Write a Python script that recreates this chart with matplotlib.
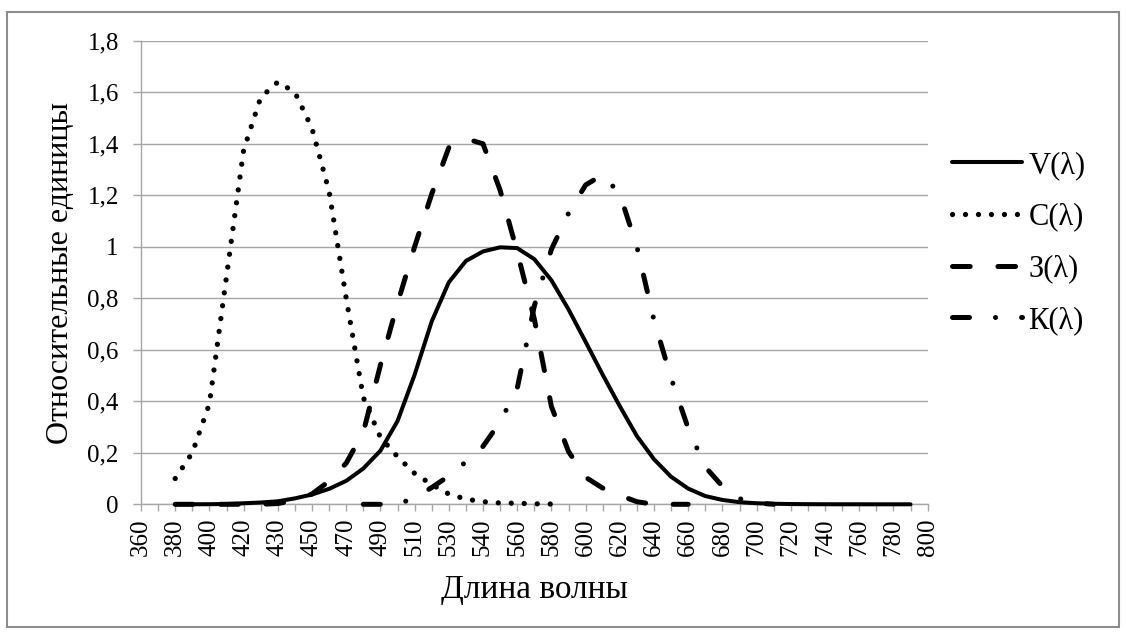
import matplotlib
matplotlib.use('Agg')
import matplotlib.pyplot as plt
from matplotlib.patches import Rectangle

plt.rcParams['font.family'] = ['Liberation Serif', 'DejaVu Serif']

# ---------------- data ----------------
categories = [360, 370, 380, 390, 400, 410, 420, 425, 430, 440, 450, 460, 470,
              480, 490, 500, 510, 520, 530, 535, 540, 550, 560, 570, 580, 590,
              600, 610, 620, 630, 640, 650, 660, 670, 680, 690, 700, 710, 720,
              730, 740, 750, 760, 770, 780, 790, 800]

v_wl = categories[2:46]
v_vals = [0.0, 0.0001, 0.0004, 0.0012, 0.004, 0.007, 0.0116, 0.023, 0.038, 0.06,
          0.091, 0.139, 0.208, 0.323, 0.503, 0.71, 0.862, 0.945, 0.982, 0.998,
          0.995, 0.952, 0.87, 0.757, 0.631, 0.503, 0.381, 0.265, 0.175, 0.107,
          0.061, 0.032, 0.017, 0.0082, 0.0041, 0.0021, 0.001, 0.0005, 0.0002,
          0.0001, 0.0001, 0.0, 0.0, 0.0]

c_wl = categories[2:25]
c_vals = [0.10, 0.20, 0.39, 0.885, 1.375, 1.58, 1.64, 1.60, 1.46, 1.215, 0.80,
          0.415, 0.26, 0.185, 0.12, 0.077, 0.04, 0.02, 0.01, 0.005, 0.004,
          0.002, 0.001]

z_wl = categories[2:33]
z_vals = [0.0, 0.0, 0.0, 0.0, 0.0, 0.0, 0.003, 0.015, 0.04, 0.09, 0.16, 0.28,
          0.54, 0.78, 1.0, 1.205, 1.385, 1.42, 1.40, 1.22, 0.98, 0.72, 0.38,
          0.205, 0.105, 0.063, 0.035, 0.01, 0.0, 0.0, 0.0]

k_wl = categories[13:38]
k_vals = [0.0, 0.0, 0.0, 0.025, 0.065, 0.11, 0.165, 0.225, 0.32, 0.45, 0.77,
          0.99, 1.13, 1.24, 1.28, 1.205, 1.0, 0.715, 0.49, 0.295, 0.145, 0.07,
          0.022, 0.005, 0.0]

series_labels = ['V(λ)', 'С(λ)', 'З(λ)', 'К(λ)']
y_ticks = [0, 0.2, 0.4, 0.6, 0.8, 1.0, 1.2, 1.4, 1.6, 1.8]
y_tick_labels = ['0', '0,2', '0,4', '0,6', '0,8', '1', '1,2', '1,4', '1,6', '1,8']
x_title = 'Длина волны'
y_title = 'Относительные единицы'

# ---------------- figure ----------------
W, H = 1126, 634
fig = plt.figure(figsize=(W / 100, H / 100), dpi=100)
L, R, T, B = 141, 927.6, 40.8, 504.3
ax = fig.add_axes([L / W, 1 - B / H, (R - L) / W, (B - T) / H])
ax.set_xlim(0, len(categories) - 1)
ax.set_ylim(0, 1.8)

gc = '#A6A6A6'
ax.yaxis.grid(True, color=gc, lw=1.0)
ax.set_axisbelow(True)
for s in ['top', 'right']:
    ax.spines[s].set_visible(False)
for s in ['left', 'bottom']:
    ax.spines[s].set_color(gc)
    ax.spines[s].set_linewidth(1.0)

def pos(wl):
    return [categories.index(w) for w in wl]

ax.plot(pos(v_wl), v_vals, color='black', lw=2.9, solid_joinstyle='round',
        solid_capstyle='round', label=series_labels[0], clip_on=False, zorder=3)
ax.plot(pos(c_wl), c_vals, color='black', lw=3.8, linestyle=(0, (0.01, 2.45)),
        dash_capstyle='round', label=series_labels[1], clip_on=False, zorder=3)
ax.plot(pos(z_wl), z_vals, color='black', lw=3.6, linestyle=(0, (3.54, 5.54)),
        dash_capstyle='round', label=series_labels[2], clip_on=False, zorder=3)
ax.plot(pos(k_wl), k_vals, color='black', lw=3.6,
        linestyle=(0, (3.4, 5.2, 0.01, 5.2)),
        dash_capstyle='round', label=series_labels[3], clip_on=False, zorder=3)

ax.set_xticks(range(len(categories)))
ax.set_xticklabels([str(c) if i % 2 == 0 else '' for i, c in enumerate(categories)],
                   rotation=90)
ax.set_yticks(y_ticks)
ax.set_yticklabels(y_tick_labels)
ax.tick_params(axis='both', colors=gc, labelcolor='black', labelsize=18,
               direction='out', width=1.0)
ax.tick_params(axis='x', length=5, pad=5)
ax.tick_params(axis='y', length=6, pad=10)

ax.set_xlabel(x_title, fontsize=24, va='center')
ax.xaxis.set_label_coords(0.5, (B - 590) / (B - T))
ax.set_ylabel(y_title, fontsize=23, va='center')
ax.yaxis.set_label_coords((61 - L) / (R - L), 0.5)

fig.legend(loc='center left', bbox_to_anchor=(952 / W, 1 - 243 / H),
           frameon=False, fontsize=22, handlelength=2.3, handletextpad=0.2,
           labelspacing=0.74, borderpad=0, borderaxespad=0)

fig.add_artist(Rectangle((7 / W, 1 - 627 / H), (1119 - 7) / W, (627 - 12) / H,
                         transform=fig.transFigure, fill=False,
                         edgecolor='#8C8C8C', lw=1.5))

fig.savefig('out.png', dpi=100)
